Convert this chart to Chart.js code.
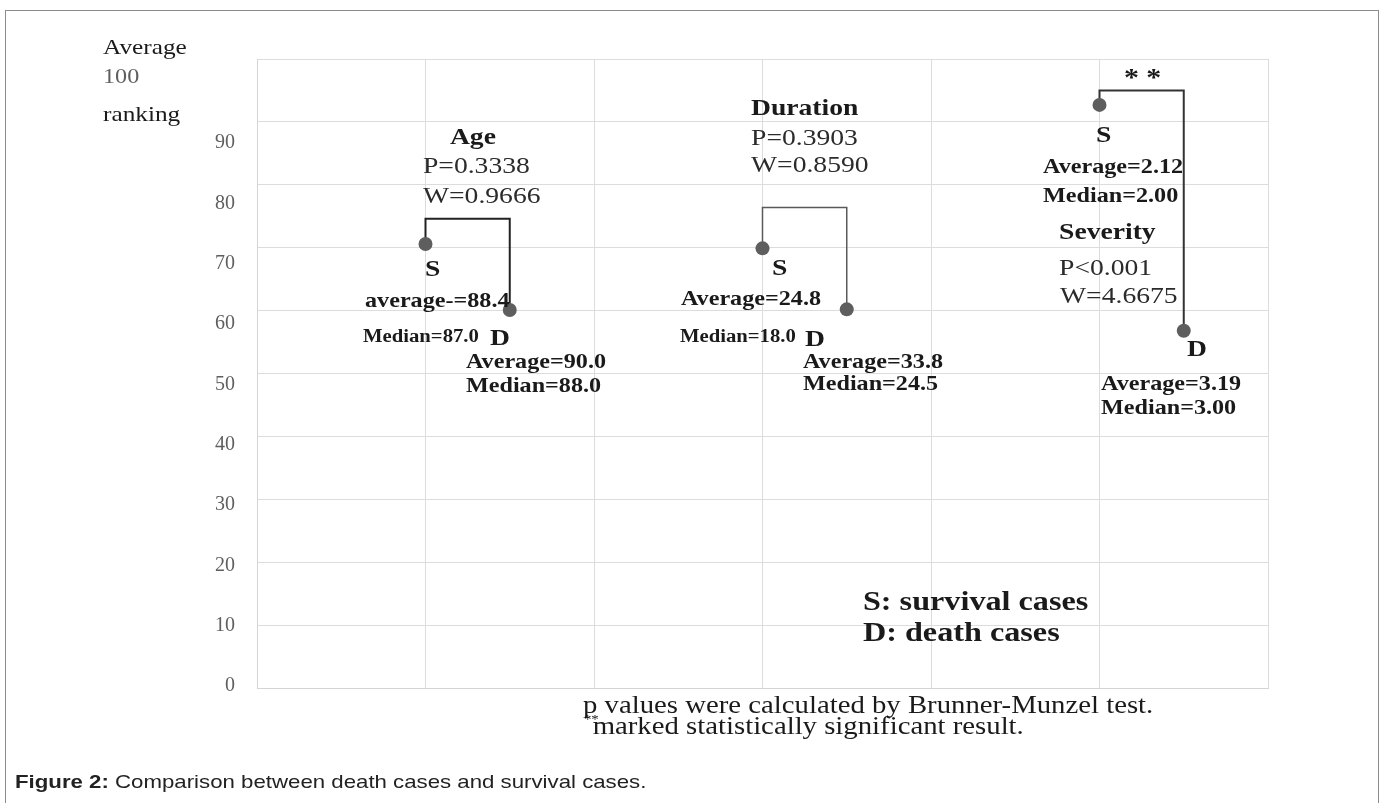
<!DOCTYPE html>
<html><head><meta charset="utf-8">
<script src="https://cdn.jsdelivr.net/npm/chart.js@4.4.1/dist/chart.umd.min.js"></script>
<style>
html,body{margin:0;padding:0;background:#fff;}
#wrap{position:relative;width:1384px;height:803px;overflow:hidden;}
#frame{position:absolute;left:5px;top:10px;width:1374px;height:820px;border:1px solid #8c8c8c;box-sizing:border-box;}
canvas{position:absolute;left:0;top:0;}
#caption{position:absolute;left:15px;top:770px;font-family:"Liberation Sans",Arial,sans-serif;font-size:19px;line-height:24px;color:#222;transform:scaleX(1.17);transform-origin:0 0;white-space:nowrap;}
</style></head>
<body><div id="wrap"><div id="frame"></div><canvas id="c" width="1384" height="803"></canvas><div id="caption"><b>Figure 2:</b> Comparison between death cases and survival cases.</div></div>
<script>
// ---- data ----
const groups = ['Age', 'Duration', 'Severity'];
const survivalX = [1, 3, 5];
const deathX = [1.5, 3.5, 5.5];
const survivalRank = [70.6, 69.9, 92.7];
const deathRank = [60.1, 60.2, 56.8];
const bracketTop = [74.6, 76.4, 95.0];
const yTickLabels = [0, 10, 20, 30, 40, 50, 60, 70, 80, 90, 100];

// ---- styles ----
const bracketColors = ['#222222', '#5a5a5a', '#333333'];
const bracketWidths = [2, 1.5, 2];
const SERIF = '"Liberation Serif","Times New Roman",serif';
const SX = 1.15;
const fonts = {
  head: 'bold 24px ' + SERIF,
  stat: '24px ' + SERIF,
  letter: 'bold 24px ' + SERIF,
  val: 'bold 21px ' + SERIF,
  valS: 'bold 18px ' + SERIF,
  leg: 'bold 28px ' + SERIF,
  note: '25px ' + SERIF,
  sup: '13px ' + SERIF,
  ast: 'bold 26px ' + SERIF,
  title: '22px ' + SERIF,
  tick100: '21px ' + SERIF
};
// annotation texts: [text, x (axis units), y (rank units), font key, colour]
const notes = [
  ['Age', 1.145, 87.4, 'head', '#1a1a1a'],
  ['P=0.3338', 0.985, 82.8, 'stat', '#2b2b2b'],
  ['W=0.9666', 0.985, 78.1, 'stat', '#2b2b2b'],
  ['S', 0.997, 66.5, 'letter', '#1a1a1a'],
  ['average-=88.4', 0.641, 61.5, 'val', '#1a1a1a'],
  ['Median=87.0', 0.629, 55.8, 'valS', '#1a1a1a'],
  ['D', 1.383, 55.5, 'letter', '#1a1a1a'],
  ['Average=90.0', 1.240, 51.7, 'val', '#1a1a1a'],
  ['Median=88.0', 1.240, 47.9, 'val', '#1a1a1a'],

  ['Duration', 2.932, 92.1, 'head', '#1a1a1a'],
  ['P=0.3903', 2.932, 87.4, 'stat', '#2b2b2b'],
  ['W=0.8590', 2.932, 83.0, 'stat', '#2b2b2b'],
  ['S', 3.056, 66.6, 'letter', '#1a1a1a'],
  ['Average=24.8', 2.516, 61.8, 'val', '#1a1a1a'],
  ['Median=18.0', 2.510, 55.8, 'valS', '#1a1a1a'],
  ['D', 3.252, 55.3, 'letter', '#1a1a1a'],
  ['Average=33.8', 3.240, 51.8, 'val', '#1a1a1a'],
  ['Median=24.5', 3.240, 48.2, 'val', '#1a1a1a'],

  ['* *', 5.145, 96.7, 'ast', '#1a1a1a'],
  ['S', 4.979, 87.8, 'letter', '#1a1a1a'],
  ['Average=2.12', 4.665, 82.8, 'val', '#1a1a1a'],
  ['Median=2.00', 4.665, 78.2, 'val', '#1a1a1a'],
  ['Severity', 4.760, 72.3, 'head', '#1a1a1a'],
  ['P<0.001', 4.760, 66.6, 'stat', '#2b2b2b'],
  ['W=4.6675', 4.766, 62.2, 'stat', '#2b2b2b'],
  ['D', 5.519, 53.7, 'letter', '#1a1a1a'],
  ['Average=3.19', 5.009, 48.2, 'val', '#1a1a1a'],
  ['Median=3.00', 5.009, 44.5, 'val', '#1a1a1a'],

  ['S: survival cases', 3.596, 13.5, 'leg', '#1a1a1a'],
  ['D: death cases', 3.596, 8.6, 'leg', '#1a1a1a'],

  ['p values were calculated by Brunner-Munzel test.', 1.935, -2.9, 'note', '#1a1a1a'],
  ['**', 1.940, -5.0, 'sup', '#1a1a1a'],
  ['marked statistically significant result.', 1.992, -6.2, 'note', '#1a1a1a'],

  ['Average', -0.914, 101.7, 'title', '#1a1a1a'],
  ['ranking', -0.914, 91.1, 'title', '#1a1a1a']
];

function drawText(ctx, text, px, py, font, color) {
  ctx.save();
  ctx.font = font; ctx.fillStyle = color;
  ctx.textBaseline = 'middle'; ctx.textAlign = 'left';
  ctx.translate(px, py); ctx.scale(SX, 1);
  ctx.fillText(text, 0, 0);
  ctx.restore();
}

const notePlugin = {
  id: 'notes',
  afterDraw(chart) {
    const ctx = chart.ctx, xs = chart.scales.x, ys = chart.scales.y, yl = chart.scales.yl;
    notes.forEach(n => drawText(ctx, n[0], xs.getPixelForValue(n[1]), ys.getPixelForValue(n[2]), fonts[n[3]], n[4]));
    // the top tick label "100" sits beside the axis title
    const top = yTickLabels[yTickLabels.length - 1];
    drawText(ctx, String(top), xs.getPixelForValue(-0.914), yl.getPixelForValue(top) - 5, fonts.tick100, '#5f5f5f');
  }
};

const datasets = [];
groups.forEach((g, i) => {
  datasets.push({
    label: g + ' bracket',
    data: [
      {x: survivalX[i], y: survivalRank[i]},
      {x: survivalX[i], y: bracketTop[i]},
      {x: deathX[i], y: bracketTop[i]},
      {x: deathX[i], y: deathRank[i]}
    ],
    showLine: true, borderColor: bracketColors[i], borderWidth: bracketWidths[i],
    pointRadius: 0, tension: 0, order: 2
  });
});
datasets.push({
  label: 'S', data: survivalX.map((x, i) => ({x, y: survivalRank[i]})),
  pointRadius: 7, backgroundColor: '#5e5e5e', borderWidth: 0, order: 0
});
datasets.push({
  label: 'D', data: deathX.map((x, i) => ({x, y: deathRank[i]})),
  pointRadius: 7, backgroundColor: '#5e5e5e', borderWidth: 0, order: 0
});

new Chart(document.getElementById('c').getContext('2d'), {
  type: 'scatter',
  data: {datasets},
  options: {
    responsive: false, animation: false, devicePixelRatio: 1,
    layout: {padding: {left: 197, right: 116, top: 59, bottom: 115}},
    plugins: {legend: {display: false}, tooltip: {enabled: false}},
    scales: {
      x: {type: 'linear', min: 0, max: 6,
          ticks: {display: false, stepSize: 1},
          grid: {color: '#dcdcdc', drawTicks: false},
          border: {color: '#d4d4d4'},
          afterFit: s => { s.height = 0; }},
      y: {type: 'linear', position: 'left', min: 0, max: 100,
          ticks: {display: false, stepSize: 10},
          grid: {color: '#dcdcdc', drawTicks: false},
          border: {color: '#d4d4d4'},
          afterFit: s => { s.width = 0; }},
      yl: {type: 'linear', position: 'left', min: -0.3, max: 103.9,
           ticks: {stepSize: 10, includeBounds: false, padding: 22, color: '#5f5f5f',
                   font: {family: SERIF, size: 20},
                   callback: v => (yTickLabels.includes(v) && v !== yTickLabels[yTickLabels.length - 1]) ? String(v) : ''},
           grid: {display: false, drawTicks: false},
           border: {display: false},
           afterFit: s => { s.width = 60; }}
    }
  },
  plugins: [notePlugin]
});
</script>
</body></html>
